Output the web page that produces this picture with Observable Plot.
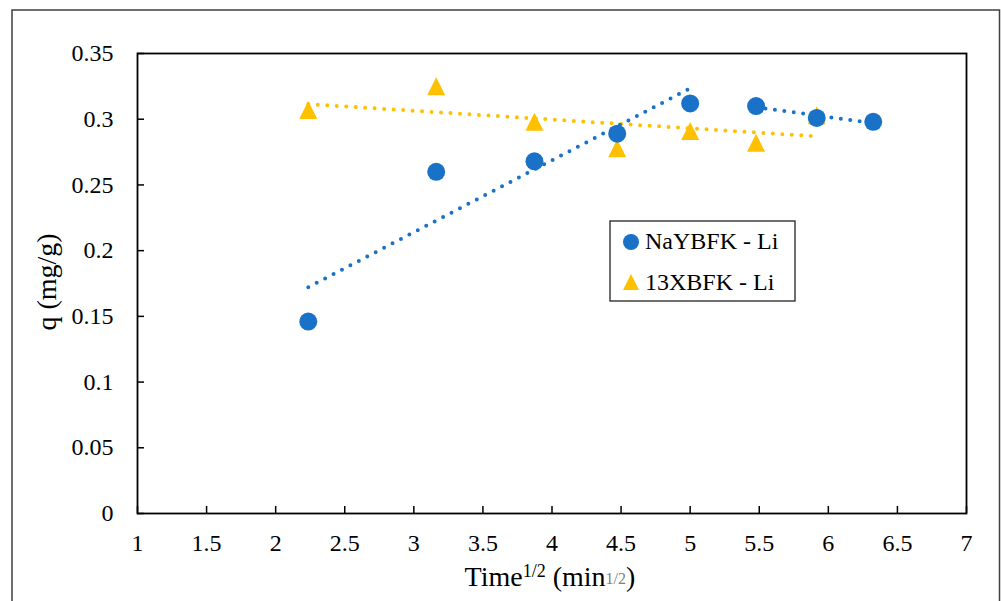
<!DOCTYPE html>
<html>
<head>
<meta charset="utf-8">
<script src="https://cdn.jsdelivr.net/npm/d3@7"></script>
<script src="https://cdn.jsdelivr.net/npm/@observablehq/plot@0.6"></script>
<style>
  html, body { margin: 0; padding: 0; background: white; }
  #chart { width: 1001px; height: 601px; overflow: hidden; }
  #chart svg text { font-family: "Liberation Serif", "Times New Roman", serif; }
</style>
</head>
<body>
<div id="chart"></div>
<script>
// ---- data ----
const timeSqrt = [2.236, 3.162, 3.873, 4.472, 5.0, 5.477, 5.916, 6.325];
const naYBFK   = [0.146, 0.260, 0.268, 0.289, 0.312, 0.310, 0.301, 0.298];
const naYTrendGroup = ["a", "a", "a", "a", "a", "b", "b", "b"];
const x13Time  = [2.236, 3.162, 3.873, 4.472, 5.0, 5.477, 5.916];
const x13BFK   = [0.307, 0.325, 0.298, 0.278, 0.291, 0.282, 0.303];
const seriesNames = ["NaYBFK - Li", "13XBFK - Li"];
const xTicks = [1, 1.5, 2, 2.5, 3, 3.5, 4, 4.5, 5, 5.5, 6, 6.5, 7];
const yTicks = [0, 0.05, 0.1, 0.15, 0.2, 0.25, 0.3, 0.35];

const blue = "#1A72C8";
const gold = "#FFC000";
const fmt = d => String(Math.round(d * 100) / 100);
const font = "Liberation Serif";

const naYData = timeSqrt.map((t, i) => ({t, q: naYBFK[i], g: naYTrendGroup[i]}));
const x13Data = x13Time.map((t, i) => ({t, q: x13BFK[i]}));

const tri = {
  draw(ctx, size) {
    const h = Math.sqrt(size / Math.PI);
    ctx.moveTo(0, -h);
    ctx.lineTo(h, h);
    ctx.lineTo(-h, h);
    ctx.closePath();
  }
};

const W = 1001, H = 601, mL = 137, mR = 35, mT = 53, mB = 88;
const plotW = W - mL - mR, plotH = H - mT - mB;

const trendStyle = {strokeWidth: 4, strokeDasharray: "0 9.5", strokeLinecap: "round", ci: 0};

const svg = Plot.plot({
  width: W, height: H,
  marginLeft: mL, marginRight: mR, marginTop: mT, marginBottom: mB,
  style: {fontFamily: font, fontSize: "24px", background: "white", color: "black"},
  x: {domain: [1, 7]},
  y: {domain: [0, 0.35]},
  marks: [
    Plot.axisX({ticks: xTicks, tickSize: 0, tickPadding: 20, tickFormat: fmt, label: null, fontFamily: font, fontSize: 24}),
    Plot.axisY({ticks: yTicks, tickSize: 0, tickPadding: 24, tickFormat: fmt, label: null, fontFamily: font, fontSize: 24}),
    Plot.tickY(yTicks, {y: d => d, insetRight: plotW - 7, stroke: "black", strokeWidth: 1.5}),
    Plot.tickX(xTicks, {x: d => d, insetTop: plotH - 7, stroke: "black", strokeWidth: 1.5}),
    Plot.frame({stroke: "black", strokeWidth: 1.8}),
    Plot.dot(x13Data, {x: "t", y: "q", symbol: tri, r: 9, fill: gold}),
    Plot.linearRegressionY(x13Data, {x: "t", y: "q", stroke: gold, ...trendStyle}),
    Plot.dot(naYData, {x: "t", y: "q", r: 9, fill: blue}),
    Plot.linearRegressionY(naYData, {x: "t", y: "q", z: "g", stroke: blue, ...trendStyle})
  ]
});

const s = d3.select(svg);

// outer chart-area border
s.append("rect").attr("x", 12).attr("y", 10).attr("width", 987.5).attr("height", 620)
  .attr("fill", "none").attr("stroke", "#404040").attr("stroke-width", 1.5);

// axis titles
const xt = s.append("text").attr("x", 550).attr("y", 586).attr("text-anchor", "middle")
  .attr("font-family", font).attr("font-size", 28).attr("fill", "black");
xt.append("tspan").text("Time");
xt.append("tspan").attr("font-size", 18).attr("dy", -9).text("1/2");
xt.append("tspan").attr("dy", 9).text(" (min");
xt.append("tspan").attr("font-size", 16).attr("fill", "#808080").attr("dy", -2).text("1/2");
xt.append("tspan").attr("dy", 2).text(")");

s.append("text").attr("transform", "translate(56,282) rotate(-90)").attr("text-anchor", "middle")
  .attr("font-family", font).attr("font-size", 28).attr("fill", "black").text("q (mg/g)");

// legend
const lg = s.append("g").attr("text-anchor", "start");
lg.append("rect").attr("x", 610).attr("y", 221).attr("width", 185).attr("height", 80)
  .attr("fill", "white").attr("stroke", "#222").attr("stroke-width", 1.3);
lg.append("circle").attr("cx", 631).attr("cy", 242).attr("r", 8).attr("fill", blue);
lg.append("path").attr("transform", "translate(631,282)").attr("d", "M0,-8L8,8L-8,8Z").attr("fill", gold);
lg.append("text").attr("x", 645).attr("y", 249).attr("text-anchor", "start").attr("font-family", font).attr("font-size", 24)
  .attr("fill", "black").text(seriesNames[0]);
lg.append("text").attr("x", 645).attr("y", 290).attr("text-anchor", "start").attr("font-family", font).attr("font-size", 24)
  .attr("fill", "black").text(seriesNames[1]);

document.getElementById("chart").appendChild(svg);
</script>
</body>
</html>
